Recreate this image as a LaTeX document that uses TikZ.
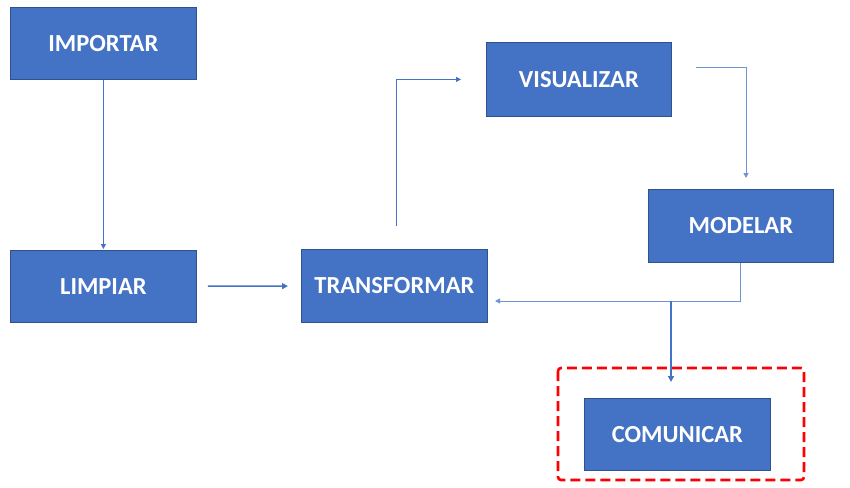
\documentclass[tikz,border=0pt]{standalone}
\usepackage{fontspec}
\setmainfont{Carlito}
\usetikzlibrary{arrows.meta,calc}
\definecolor{boxblue}{HTML}{4472C4}
\definecolor{boxedge}{HTML}{2F528F}
\definecolor{lineblue}{HTML}{4472C4}
\definecolor{lightline}{HTML}{6F93D3}
\tikzset{
  stepbox/.style={draw=boxedge, line width=0.8pt, fill=boxblue, text=white,
    font=\fontsize{24.5}{26}\selectfont\bfseries, minimum width=185pt, minimum height=72pt,
    inner sep=0pt, anchor=north west},
  arr/.style={draw=lineblue, line width=1pt, -{Triangle[width=5pt,length=5pt]}},
  thinarr/.style={draw=lightline, line width=1pt, -{Triangle[width=5pt,length=5pt]}},
  thickarr/.style={draw=lineblue, line width=1.8pt, -{Triangle[width=6pt,length=6pt]}},
  hilite/.style={draw=red, line width=2.6pt, dash pattern=on 10pt off 5pt, rounded corners=3pt}
}
\begin{document}
\begin{tikzpicture}[x=1pt,y=-1pt]
\useasboundingbox (0,0) rectangle (850,487);
\node[stepbox, minimum width=186pt, minimum height=72pt] (imp) at (10,7) {IMPORTAR};
\node[stepbox, minimum width=186pt, minimum height=72pt] (lim) at (10,250) {LIMPIAR};
\node[stepbox, minimum width=186pt, minimum height=73pt] (tra) at (301,249) {TRANSFORMAR};
\node[stepbox, minimum width=185pt, minimum height=74pt] (vis) at (486,42) {VISUALIZAR};
\node[stepbox, minimum width=185pt, minimum height=73pt] (mod) at (648,189) {MODELAR};
\node[stepbox, minimum width=186pt, minimum height=72pt] (com) at (584,398) {COMUNICAR};
\draw[hilite] (558,368) rectangle (804,480);
\coordinate (c1) at (696,67);
\coordinate (c1e) at (746,178);
\coordinate (c2) at (495,301);
\coordinate (j) at (671,301);
\coordinate (c3) at (671,382);
% connectors
\draw[arr, shorten >=1pt] (imp) -- (lim);
\draw[thickarr, line width=1.5pt, shorten <=11pt, shorten >=13pt] (lim) -- (tra);
\draw[arr, shorten <=23pt, shorten >=25pt] ([xshift=2pt]tra.north) |- (vis.west);
\draw[thinarr] (c1) -| (c1e);
\draw[thinarr] (mod.south) |- (c2);
\draw[thickarr] (j) -- (c3);
\end{tikzpicture}
\end{document}
